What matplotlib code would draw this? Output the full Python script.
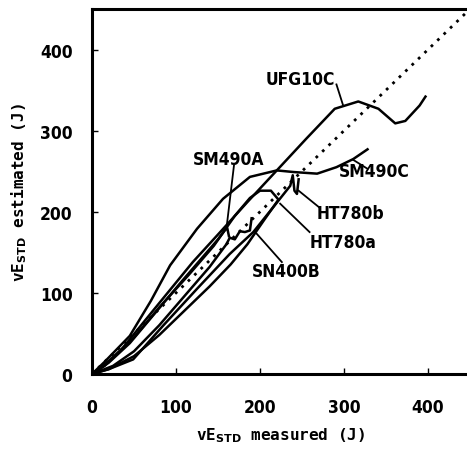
import numpy as np
import matplotlib.pyplot as plt

# curve data (measured, estimated) in J
ufg10c_x = [0, 15, 35, 60, 90, 120, 150, 185, 220, 255, 289, 317, 341, 361, 373, 390, 397]
ufg10c_y = [0, 10, 30, 62, 100, 138, 172, 212, 251, 290, 327, 336, 327, 309, 312, 331, 342]

sm490c_x = [0, 15, 45, 70, 93, 125, 156, 188, 220, 240, 268, 291, 311, 328]
sm490c_y = [0, 15, 47, 90, 134, 179, 216, 243, 251, 249, 247, 255, 265, 277]

sm490a_x = [0, 20, 45, 75, 105, 130, 150, 158, 161, 163]
sm490a_y = [0, 14, 38, 75, 112, 142, 166, 177, 180, 170]

sn400b_x = [0, 25, 50, 80, 110, 140, 160, 164, 170, 176, 182, 188, 190]
sn400b_y = [0, 10, 28, 60, 96, 132, 160, 168, 166, 176, 175, 177, 192]

ht780a_x = [0, 20, 50, 80, 115, 145, 170, 188, 200, 213, 222, 205, 185, 165, 140, 110, 80, 50, 20, 0]
ht780a_y = [0, 16, 45, 82, 122, 158, 195, 217, 226, 226, 215, 190, 160, 135, 108, 78, 48, 22, 6, 0]

ht780b_x = [0, 20, 49, 85, 125, 164, 192, 216, 236, 239, 241, 244, 246]
ht780b_y = [0, 6, 18, 60, 105, 148, 175, 206, 232, 245, 226, 222, 240]

diag = [0, 450]

labels = ["UFG10C", "SM490A", "SM490C", "HT780b", "HT780a", "SN400B"]
label_xy = [(248, 364), (163, 265), (336, 250), (308, 198), (299, 163), (231, 127)]
leader_from = [(291, 357), (169, 257), (328, 253), (271, 205), (259, 175), (226, 138)]
leader_to = [(299, 331), (160, 179), (311, 264), (246, 226), (224, 210), (196, 173)]

narrow = dict(family='DejaVu Sans', stretch='condensed', fontweight='bold')
mono = dict(family='DejaVu Sans Mono', fontweight='bold')

fig = plt.figure(figsize=(4.67, 4.52), dpi=100)
ax = fig.add_axes([92 / 467, 77 / 452, 378 / 467, 365 / 452])

# 1:1 reference line
ax.plot(diag, diag, color='black', linestyle=(0, (1, 2.2)), linewidth=2.0)
for xs, ys in [(ufg10c_x, ufg10c_y), (sm490c_x, sm490c_y), (sm490a_x, sm490a_y),
               (sn400b_x, sn400b_y), (ht780a_x, ht780a_y), (ht780b_x, ht780b_y)]:
    ax.plot(xs, ys, color='black', linewidth=1.8, solid_joinstyle='round')

# material labels with leader lines
for name, (tx, ty), (x0, y0), (x1, y1) in zip(labels, label_xy, leader_from, leader_to):
    ax.plot([x0, x1], [y0, y1], color='black', linewidth=1.3)
    ax.text(tx, ty, name, ha='center', va='center', fontsize=12.5, **narrow)

ax.set_xlim(0, 450)
ax.set_ylim(0, 450)
ax.set_xticks([0, 100, 200, 300, 400])
ax.set_yticks([0, 100, 200, 300, 400])
ax.tick_params(direction='in', length=4, width=1, labelsize=12.5)
ax.tick_params(axis='x', pad=17)
ax.tick_params(axis='y', pad=14)
for lab in ax.get_xticklabels() + ax.get_yticklabels():
    lab.set_family('DejaVu Sans')
    lab.set_stretch('condensed')
    lab.set_fontweight('bold')
for sp in ax.spines.values():
    sp.set_linewidth(2.2)

ax.set_xlabel(r"vE$_{\mathbf{STD}}$ measured (J)", fontsize=11.5, labelpad=7, **mono)
ax.set_ylabel(r"vE$_{\mathbf{STD}}$ estimated (J)", fontsize=11.5, labelpad=8, **mono)

fig.savefig("out.png", dpi=100)
